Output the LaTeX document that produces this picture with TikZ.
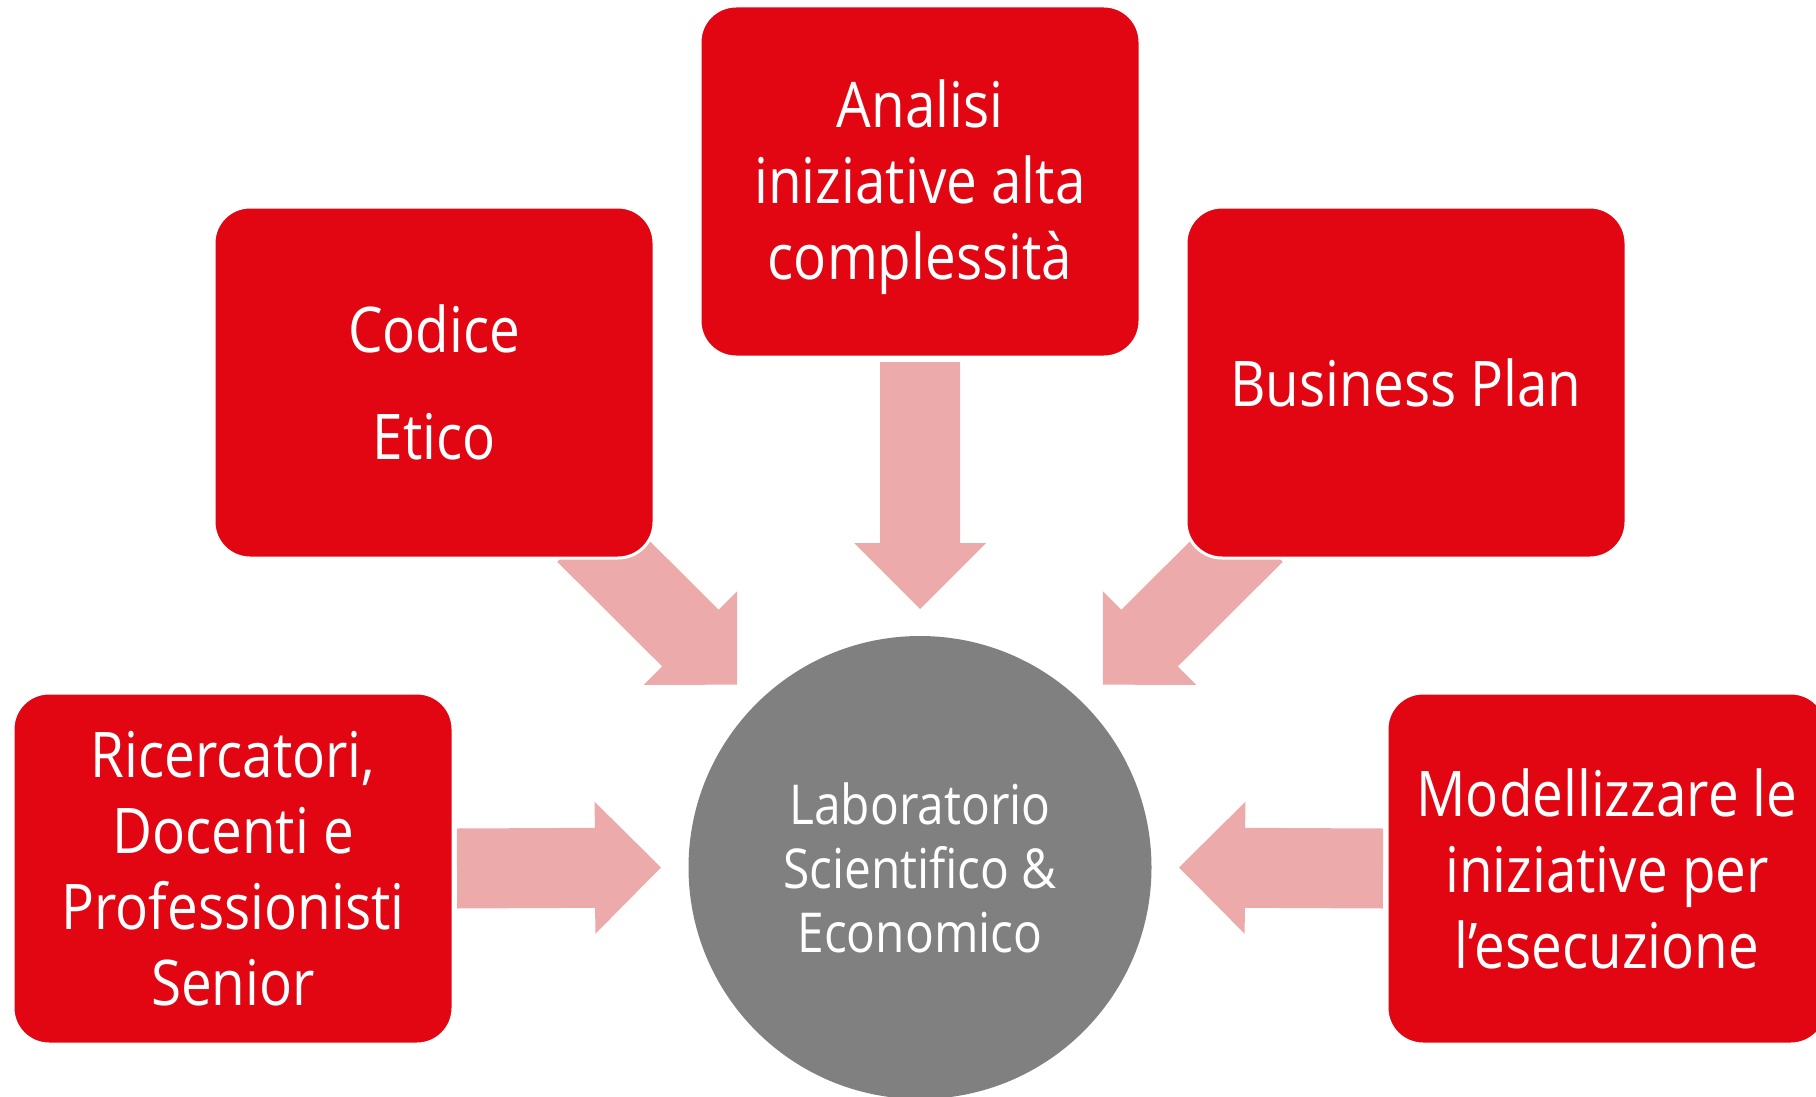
\documentclass[tikz,border=0pt]{standalone}
\usepackage{fontspec}
\setmainfont{Open Sans}[FakeStretch=0.87]
\usetikzlibrary{calc}
\definecolor{boxred}{HTML}{E20613}
\definecolor{arrowpink}{HTML}{EDAAAB}
\definecolor{circgray}{HTML}{808080}
\pgfdeclarelayer{bg}
\pgfsetlayers{bg,main}
\newdimen\baxa \newdimen\baya \newdimen\baxb \newdimen\bayb
\newcommand\blockarrow[2]{%
  \pgfextractx{\baxa}{\pgfpointanchor{#1}{center}}%
  \pgfextracty{\baya}{\pgfpointanchor{#1}{center}}%
  \pgfextractx{\baxb}{\pgfpointanchor{#2}{center}}%
  \pgfextracty{\bayb}{\pgfpointanchor{#2}{center}}%
  \pgfmathsetmacro\baang{atan2(\bayb-\baya,\baxb-\baxa)}%
  \pgfmathsetmacro\balen{veclen(\baxb-\baxa,\bayb-\baya)}%
  \fill[arrowfill, shift={(#1)}, rotate=\baang]
    (0,-40) -- ({\balen-66},-40) -- ({\balen-66},-66) -- ({\balen},0)
    -- ({\balen-66},66) -- ({\balen-66},40) -- (0,40) -- cycle;}
\tikzset{
  redbox/.style={rectangle, rounded corners=36pt, fill=boxred, draw=white,
    line width=3pt, minimum width=440pt, minimum height=351pt, inner sep=0pt,
    outer sep=0pt, text=white, align=center, font=\fontsize{63}{76}\selectfont},
  hubcircle/.style={circle, fill=circgray, draw=none, minimum size=463pt,
    inner sep=0pt, outer sep=0pt, text=white, align=center,
    font=\fontsize{55}{64}\selectfont},
  arrowfill/.style={fill=arrowpink}
}
\begin{document}
\begin{tikzpicture}[x=1pt,y=1pt]
\path[use as bounding box] (0,0) rectangle (1816,-1097);
\node[redbox] (ana) at (920,-181.5) {\rule{0pt}{60pt}Analisi\\iniziative alta\\complessità};
\node[redbox] (cod) at (434,-382.5) {Codice\\[31pt]Etico};
\node[redbox] (bp) at (1406,-382.5) {Business Plan};
\node[redbox] (ric) at (233,-868.5) {Ricercatori,\\Docenti e\\Professionisti\\Senior};
\node[redbox] (mod) at (1607,-868.5) {Modellizzare le\\iniziative per\\l’esecuzione};
\node[hubcircle] (lab) at (920,-867.5) {Laboratorio\\Scientifico \&\\Economico};
\coordinate (t1) at ($(ana.south)+(0,-5)$);
\coordinate (h1) at ($(lab.north)+(0,27)$);
\coordinate (t2) at ($(cod.south east)+(-68.5,24.5)$);
\coordinate (h2) at ($(lab.135)+(-19.1,19.1)$);
\coordinate (t3) at ($(bp.south west)+(68.5,24.5)$);
\coordinate (h3) at ($(lab.45)+(19.1,19.1)$);
\coordinate (t4) at ($(ric.east)+(4,0)$);
\coordinate (h4) at ($(lab.west)+(-27.5,0)$);
\coordinate (t5) at ($(mod.west)+(-4,0)$);
\coordinate (h5) at ($(lab.east)+(27.5,0)$);
\begin{pgfonlayer}{bg}
\fill[white] (0,0) rectangle (1816,-1097);
\blockarrow{t1}{h1}
\blockarrow{t2}{h2}
\blockarrow{t3}{h3}
\blockarrow{t4}{h4}
\blockarrow{t5}{h5}
\end{pgfonlayer}
\end{tikzpicture}
\end{document}
